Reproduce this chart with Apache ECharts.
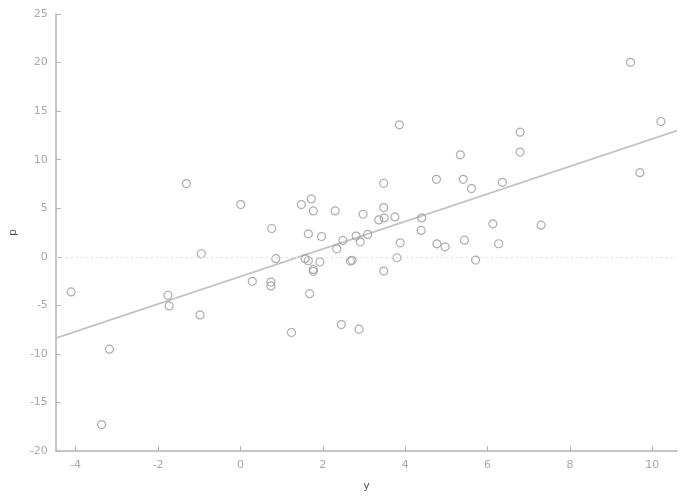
<!DOCTYPE html>
<html>
<head>
<meta charset="utf-8">
<script src="https://cdn.jsdelivr.net/npm/echarts@6/dist/echarts.min.js"></script>
<style>
  html, body { margin: 0; padding: 0; background: #fff; }
  #chart { width: 685px; height: 502px; }
</style>
</head>
<body>
<div id="chart"></div>
<script>
// 散点数据 (y, p)
const xValues = [
  -4.11, -3.18, -3.37, -1.73, -0.98, -1.76, -1.31, -0.95, 0.01, 1.48,
  1.72, 1.77, 2.30, 0.76, 1.65, 1.97, 2.49, 2.34, 0.86, 1.57,
  1.65, 1.93, 1.77, 1.77, 0.29, 0.74, 0.74, 1.68, 2.45, 1.24,
  2.67, 2.71, 3.86, 5.34, 4.76, 3.48, 2.98, 3.48, 3.36, 3.49,
  3.75, 4.40, 4.39, 2.81, 2.91, 3.09, 3.88, 4.77, 4.97, 3.80,
  3.48, 2.88, 6.79, 6.79, 5.41, 5.61, 6.36, 6.13, 7.30, 5.44,
  6.27, 5.71, 9.47, 10.21, 9.70
];
const pValues = [
  -3.62, -9.51, -17.28, -5.06, -5.99, -3.96, 7.54, 0.31, 5.38, 5.38,
  5.96, 4.72, 4.72, 2.91, 2.36, 2.09, 1.68, 0.82, -0.20, -0.20,
  -0.41, -0.54, -1.30, -1.50, -2.53, -2.60, -3.00, -3.80, -6.98, -7.80,
  -0.44, -0.37, 13.59, 10.50, 7.98, 7.57, 4.38, 5.07, 3.80, 4.00,
  4.10, 4.00, 2.71, 2.13, 1.54, 2.30, 1.44, 1.33, 1.03, -0.10,
  -1.47, -7.46, 12.83, 10.78, 7.98, 7.02, 7.67, 3.39, 3.25, 1.71,
  1.34, -0.34, 20.02, 13.93, 8.66
];
// 回归线端点
const fitX = [-4.48, 10.6];
const fitP = [-8.38, 12.98];
// 刻度
const xTicks = [-4, -2, 0, 2, 4, 6, 8, 10];

const chart = echarts.init(document.getElementById('chart'));
const axisGray = '#b4b4b4';
const labelGray = '#a8a8a8';

chart.setOption({
  animation: false,
  backgroundColor: '#fff',
  grid: { left: 54, right: 8, top: 14, bottom: 51 },
  xAxis: {
    type: 'value',
    min: -4.48,
    max: 10.6,
    name: 'y',
    nameLocation: 'middle',
    nameGap: 30,
    nameTextStyle: { color: '#555', fontSize: 11, fontFamily: 'DejaVu Sans' },
    axisLine: { onZero: false, lineStyle: { color: axisGray, width: 1.5 } },
    axisTick: { inside: true, length: 5, customValues: xTicks, lineStyle: { color: axisGray } },
    axisLabel: { customValues: xTicks, color: labelGray, fontSize: 11, margin: 9, fontFamily: 'DejaVu Sans' },
    splitLine: { show: false }
  },
  yAxis: {
    type: 'value',
    min: -20,
    max: 25,
    interval: 5,
    name: 'p',
    nameLocation: 'middle',
    nameRotate: 90,
    nameGap: 36,
    nameTextStyle: { color: '#555', fontSize: 11, fontFamily: 'DejaVu Sans' },
    axisLine: { show: true, onZero: false, lineStyle: { color: axisGray, width: 1.5 } },
    axisTick: { show: true, inside: true, length: 5, lineStyle: { color: axisGray } },
    axisLabel: { color: labelGray, fontSize: 11, margin: 8, fontFamily: 'DejaVu Sans' },
    splitLine: { show: false }
  },
  series: [
    {
      type: 'line',
      data: fitX.map((x, i) => [x, fitP[i]]),
      symbol: 'none',
      lineStyle: { color: '#c4c4c4', width: 1.8 },
      z: 1
    },
    {
      type: 'scatter',
      data: xValues.map((x, i) => [x, pValues[i]]),
      symbol: 'circle',
      symbolSize: 8,
      itemStyle: { color: 'rgba(255,255,255,0)', borderColor: '#9a9a9a', borderWidth: 1.2 },
      markLine: {
        silent: true,
        symbol: 'none',
        label: { show: false },
        lineStyle: { color: '#dcdcdc', type: [2, 3], width: 1 },
        data: [{ yAxis: 0 }]
      },
      z: 2
    }
  ]
});
</script>
</body>
</html>
